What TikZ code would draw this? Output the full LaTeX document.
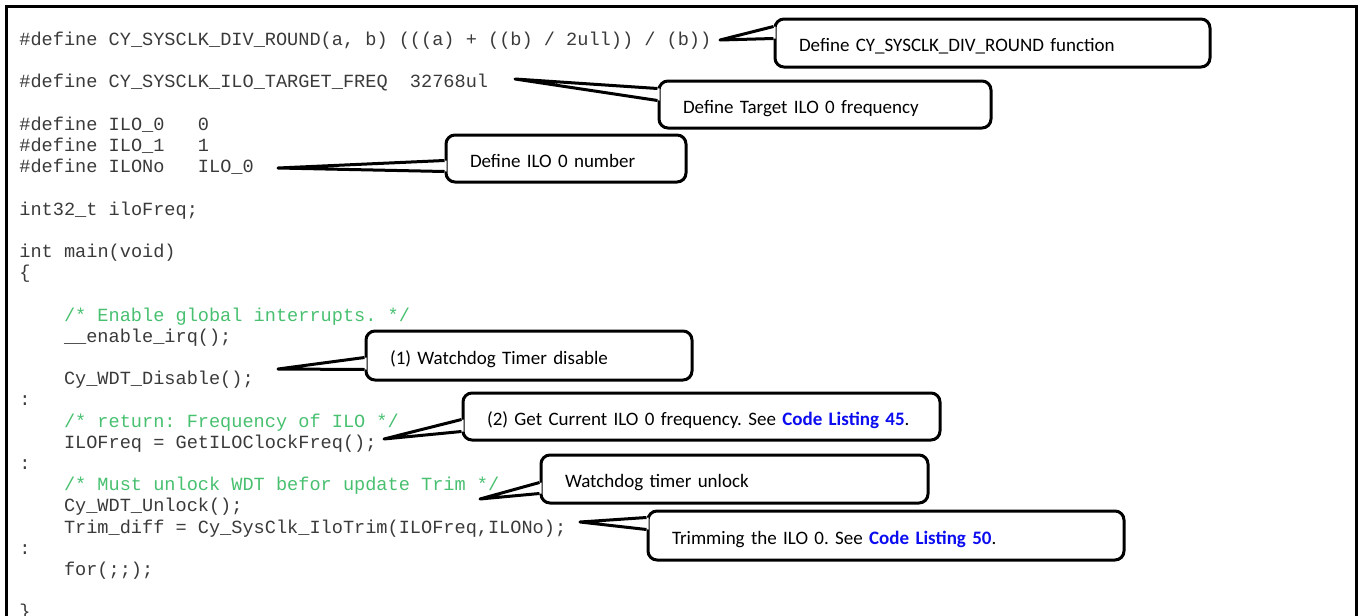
\documentclass[tikz,border=0pt]{standalone}
\usepackage{fontspec}
\setmainfont{Carlito}
\newfontfamily\codefont{Liberation Mono}
\usetikzlibrary{calc}
\frenchspacing

\definecolor{cmtgreen}{RGB}{72,192,112}
\definecolor{linkblue}{RGB}{12,12,240}
\definecolor{codegray}{RGB}{58,58,58}

\tikzset{
  codeline/.style={anchor=base west, inner sep=0pt,
    font=\codefont\fontsize{9.3}{11}\selectfont, text=codegray},
  comment/.style={codeline, text=cmtgreen},
  bubble/.style={draw=black, line width=1.5pt, rounded corners=4.5pt,
    fill=white, align=left, inner xsep=12pt, inner ysep=0pt,
    text height=8.5pt, text depth=0pt,
    font=\fontsize{9.5}{11.5}\selectfont},
  wedgeline/.style={line width=1.5pt, line join=round},
  framebox/.style={line width=1.5pt}
}

% rounded text box spanning (x0,y0)-(x1,y1), in pixel-like units
\newcommand\bubblebox[6]{%
  \node[bubble, text width={\dimexpr(#4pt-#2pt)/2-24pt\relax},
        minimum height={\dimexpr(#5pt-#3pt)/2\relax}]
    (#1) at ({(#2+#4)/2},{(#3+#5)/2}) {#6};}

% pointer from the left edge of a box (offsets from its top) to a tip
\newcommand\bubblewedge[4]{%
  \fill[white] (#2) -- ($(#1.north west)+(2,#3)$) -- ($(#1.north west)+(2,#4)$) -- cycle;
  \draw[wedgeline] ($(#1.north west)+(0,#3)$) -- (#2) -- ($(#1.north west)+(0,#4)$);}

\begin{document}
\begin{tikzpicture}[x=0.5pt,y=-0.5pt]
  \useasboundingbox (0,0) rectangle (1362,616);
  \clip (0,0) rectangle (1362,616);

  % listing frame (continues below the visible area)
  \draw[framebox] (6.5,660) -- (6.5,6.5) -- (1356.5,6.5) -- (1356.5,660);

  % source listing
  \node[codeline] (l0)  at (19,45.5)  {\#define CY\_SYSCLK\_DIV\_ROUND(a, b) (((a) + ((b) / 2ull)) / (b))};
  \node[codeline] (l2)  at (19,87.9)  {\#define CY\_SYSCLK\_ILO\_TARGET\_FREQ\ \ 32768ul};
  \node[codeline] (l4)  at (19,130.3) {\#define ILO\_0\ \ \ 0};
  \node[codeline] (l5)  at (19,151.5) {\#define ILO\_1\ \ \ 1};
  \node[codeline] (l6)  at (19,172.7) {\#define ILONo\ \ \ ILO\_0};
  \node[codeline] (l8)  at (19,215.1) {int32\_t iloFreq;};
  \node[codeline] (l10) at (19,257.5) {int main(void)};
  \node[codeline] (l11) at (19,278.7) {\{};
  \node[comment]  (l13) at (63.6,321.1) {/* Enable global interrupts. */};
  \node[codeline] (l14) at (63.6,342.3) {\_\_enable\_irq();};
  \node[codeline] (l16) at (63.6,384.7) {Cy\_WDT\_Disable();};
  \node[codeline] (l17) at (19,405.9) {:};
  \node[comment]  (l18) at (63.6,427.1) {/* return: Frequency of ILO */};
  \node[codeline] (l19) at (63.6,448.3) {ILOFreq = GetILOClockFreq();};
  \node[codeline] (l20) at (19,469.5) {:};
  \node[comment]  (l21) at (63.6,490.7) {/* Must unlock WDT befor update Trim */};
  \node[codeline] (l22) at (63.6,511.9) {Cy\_WDT\_Unlock();};
  \node[codeline] (l23) at (63.6,533.1) {Trim\_diff = Cy\_SysClk\_IloTrim(ILOFreq,ILONo);};
  \node[codeline] (l24) at (19,554.3) {:};
  \node[codeline] (l25) at (63.6,575.5) {for(;;);};
  \node[codeline] (l27) at (19,617.9) {\}};

  % pointer tips
  \coordinate (t1) at (720,40);
  \coordinate (t2) at (515,79);
  \coordinate (t3) at (278,168);
  \coordinate (t4) at (278,369);
  \coordinate (t5) at (384,439);
  \coordinate (t6) at (480,499);
  \coordinate (t7) at (580,522);

  % annotation boxes
  \bubblebox{c1}{775}{19}{1210}{67}{Define CY\_SYSCLK\_DIV\_ROUND function}
  \bubblewedge{c1}{t1}{9}{21}
  \bubblebox{c2}{659}{81}{991}{128}{Define Target ILO 0 frequency}
  \bubblewedge{c2}{t2}{9}{21}
  \bubblebox{c3}{446}{135}{686}{182}{Define ILO 0 number}
  \bubblewedge{c3}{t3}{27}{38}
  \bubblebox{c4}{366}{331}{692}{380}{(1) Watchdog Timer disable}
  \bubblewedge{c4}{t4}{28}{40}
  \bubblebox{c5}{463}{393}{940}{440}{(2) Get Current ILO 0 frequency. See \textcolor{linkblue}{\textbf{Code Listing 45}}.}
  \bubblewedge{c5}{t5}{28}{40}
  \bubblebox{c6}{541}{455}{928}{503}{Watchdog timer unlock}
  \bubblewedge{c6}{t6}{29}{40}
  \bubblebox{c7}{648}{511}{1124}{560}{Trimming the ILO 0. See \textcolor{linkblue}{\textbf{Code Listing 50}}.}
  \bubblewedge{c7}{t7}{8}{20}
\end{tikzpicture}
\end{document}
